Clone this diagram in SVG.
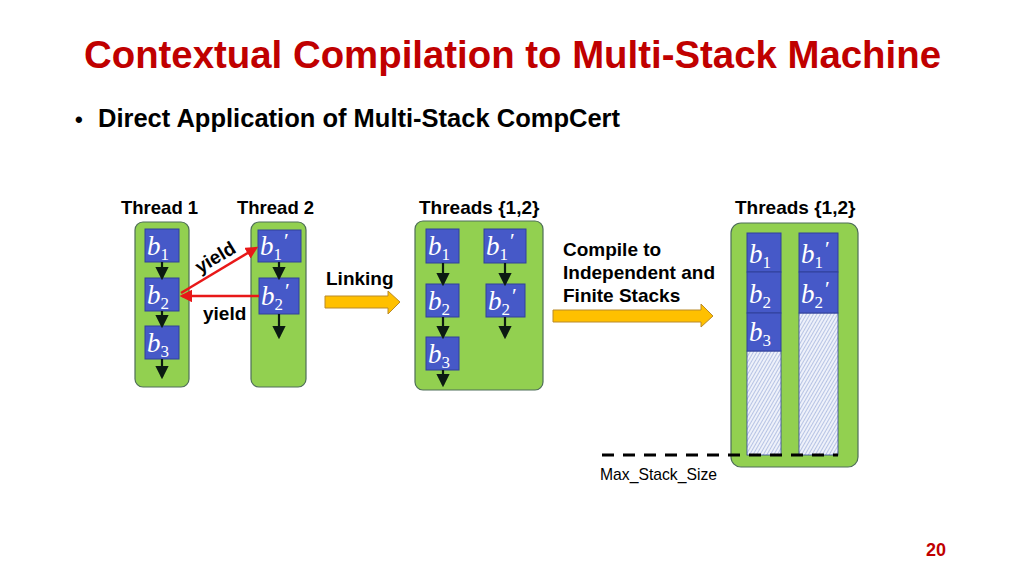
<svg xmlns="http://www.w3.org/2000/svg" width="1024" height="576" viewBox="0 0 1024 576">
<style>
.t{font-family:"Liberation Sans",Arial,sans-serif;font-weight:bold;fill:#000}
.title{font-family:"Liberation Sans",Arial,sans-serif;font-weight:bold;fill:#C00000;font-size:38.4px}
.lbl{font-size:18.5px}
.grn{fill:#92D050;stroke:#4E6E58;stroke-width:1.2}
.blk{fill:#4659C8;stroke:#31409A;stroke-width:1}
.hatch{fill:url(#hp);stroke:#31409A;stroke-width:0.8}
.m{font-family:"Liberation Serif","Times New Roman",serif;font-style:italic;fill:#fff;font-size:27px}
.s{font-style:normal;font-size:17px}
.p{font-style:normal;font-size:22px}
.ar{stroke:#0B1A12;stroke-width:2.2;fill:none;marker-end:url(#ah)}
.red{stroke:#E81818;stroke-width:2.5;fill:none;marker-end:url(#rh)}
.or{fill:#FFC000;stroke:#B98A2A;stroke-width:1}
</style>
<defs>
<marker id="ah" markerWidth="6" markerHeight="6" refX="5" refY="3" orient="auto" markerUnits="strokeWidth">
<path d="M0,0 L6,3 L0,6 z" fill="#0B1A12"/>
</marker>
<marker id="rh" markerWidth="5" markerHeight="5" refX="4" refY="2.5" orient="auto" markerUnits="strokeWidth">
<path d="M0,0 L5,2.5 L0,5 z" fill="#E81818"/>
</marker>
<pattern id="hp" width="3" height="3" patternUnits="userSpaceOnUse" patternTransform="rotate(30)">
<rect width="3" height="3" fill="#EEF1FA"/>
<line x1="0" y1="0" x2="0" y2="3" stroke="#7F95CF" stroke-width="1"/>
</pattern>
</defs>
<rect width="1024" height="576" fill="#fff"/>

<text class="title" x="84" y="68" textLength="857" lengthAdjust="spacingAndGlyphs">Contextual Compilation to Multi-Stack Machine</text>
<text class="t" x="75" y="127" font-size="22">•</text>
<text class="t" x="98" y="127" font-size="25.5" textLength="522" lengthAdjust="spacingAndGlyphs">Direct Application of Multi-Stack CompCert</text>

<text class="t lbl" x="121" y="214">Thread 1</text>
<text class="t lbl" x="237" y="214">Thread 2</text>
<text class="t" font-size="19" x="419" y="214">Threads {1,2}</text>
<text class="t" font-size="19" x="735" y="214">Threads {1,2}</text>

<g id="thread1">
<rect class="grn" x="135" y="222" width="54" height="165" rx="8"/>
<rect class="blk" x="145" y="229" width="34" height="33"/>
<text class="m" x="147" y="255">b<tspan class="s" dy="5">1</tspan></text>
<rect class="blk" x="145" y="278" width="34" height="33"/>
<text class="m" x="147" y="304">b<tspan class="s" dy="5">2</tspan></text>
<rect class="blk" x="145" y="326" width="34" height="33"/>
<text class="m" x="147" y="352">b<tspan class="s" dy="5">3</tspan></text>
</g>

<g id="thread2">
<rect class="grn" x="251" y="222" width="55" height="165" rx="8"/>
<rect class="blk" x="258" y="230" width="43" height="32"/>
<text class="m" x="260" y="255">b<tspan class="s" dy="5">1</tspan><tspan class="p" dx="2" dy="-12">′</tspan></text>
<rect class="blk" x="259" y="278" width="40" height="36"/>
<text class="m" x="261" y="305">b<tspan class="s" dy="5">2</tspan><tspan class="p" dx="2" dy="-12">′</tspan></text>
</g>

<g id="linked">
<rect class="grn" x="415" y="221" width="128" height="169" rx="8"/>
<rect class="blk" x="426" y="229" width="33" height="34"/>
<text class="m" x="428" y="255">b<tspan class="s" dy="5">1</tspan></text>
<rect class="blk" x="426" y="284" width="33" height="33"/>
<text class="m" x="428" y="310">b<tspan class="s" dy="5">2</tspan></text>
<rect class="blk" x="426" y="337" width="33" height="33"/>
<text class="m" x="428" y="363">b<tspan class="s" dy="5">3</tspan></text>
<rect class="blk" x="484" y="229" width="42" height="34"/>
<text class="m" x="486" y="255">b<tspan class="s" dy="5">1</tspan><tspan class="p" dx="2" dy="-12">′</tspan></text>
<rect class="blk" x="486" y="284" width="39" height="33"/>
<text class="m" x="488" y="310">b<tspan class="s" dy="5">2</tspan><tspan class="p" dx="2" dy="-12">′</tspan></text>
</g>

<g id="stacks">
<rect class="grn" x="731" y="223" width="127" height="244" rx="10"/>
<rect class="hatch" x="747" y="351" width="34" height="104"/>
<rect class="blk" x="747" y="233" width="34" height="39"/>
<text class="m" x="749" y="263">b<tspan class="s" dy="5">1</tspan></text>
<rect class="blk" x="747" y="272" width="34" height="41"/>
<text class="m" x="749" y="303">b<tspan class="s" dy="5">2</tspan></text>
<rect class="blk" x="747" y="313" width="34" height="38"/>
<text class="m" x="749" y="341">b<tspan class="s" dy="5">3</tspan></text>
<rect class="hatch" x="799" y="313" width="39" height="142"/>
<rect class="blk" x="799" y="233" width="39" height="39"/>
<text class="m" x="801" y="263">b<tspan class="s" dy="5">1</tspan><tspan class="p" dx="2" dy="-12">′</tspan></text>
<rect class="blk" x="799" y="272" width="39" height="41"/>
<text class="m" x="801" y="303">b<tspan class="s" dy="5">2</tspan><tspan class="p" dx="2" dy="-12">′</tspan></text>
</g>

<g id="connectors">
<line class="ar" x1="162" y1="262" x2="162" y2="278"/>
<line class="ar" x1="162" y1="311" x2="162" y2="326"/>
<line class="ar" x1="162" y1="359" x2="162" y2="377"/>
<line class="ar" x1="279" y1="262" x2="279" y2="278"/>
<line class="ar" x1="279" y1="314" x2="279" y2="337"/>
<line class="ar" x1="443" y1="263" x2="443" y2="284"/>
<line class="ar" x1="443" y1="317" x2="443" y2="337"/>
<line class="ar" x1="443" y1="370" x2="443" y2="385"/>
<line class="ar" x1="505" y1="263" x2="505" y2="284"/>
<line class="ar" x1="505" y1="317" x2="505" y2="337"/>
<line class="red" x1="181" y1="293" x2="256" y2="248"/>
<line class="red" x1="259" y1="296" x2="182" y2="296"/>
<polygon class="or" points="325,296 388,296 388,291 400,302 388,314 388,308 325,308"/>
<polygon class="or" points="553,310 701,310 701,304 713,316 701,327 701,322 553,322"/>
<line x1="602" y1="455" x2="838" y2="455" stroke="#000" stroke-width="3" stroke-dasharray="12 9"/>
</g>

<text class="t" font-size="19" transform="translate(200,274) rotate(-31)">yield</text>
<text class="t" font-size="19" x="203" y="320">yield</text>
<text class="t" font-size="19" x="326" y="285">Linking</text>
<text class="t" font-size="19" x="563" y="256">Compile to</text>
<text class="t" font-size="19" x="563" y="279">Independent and</text>
<text class="t" font-size="19" x="563" y="302">Finite Stacks</text>
<text x="600" y="480" font-family="'Liberation Sans',Arial,sans-serif" font-size="17" textLength="117" lengthAdjust="spacingAndGlyphs">Max_Stack_Size</text>
<text class="t" x="926" y="556" font-size="18" style="fill:#C00000">20</text>
</svg>
